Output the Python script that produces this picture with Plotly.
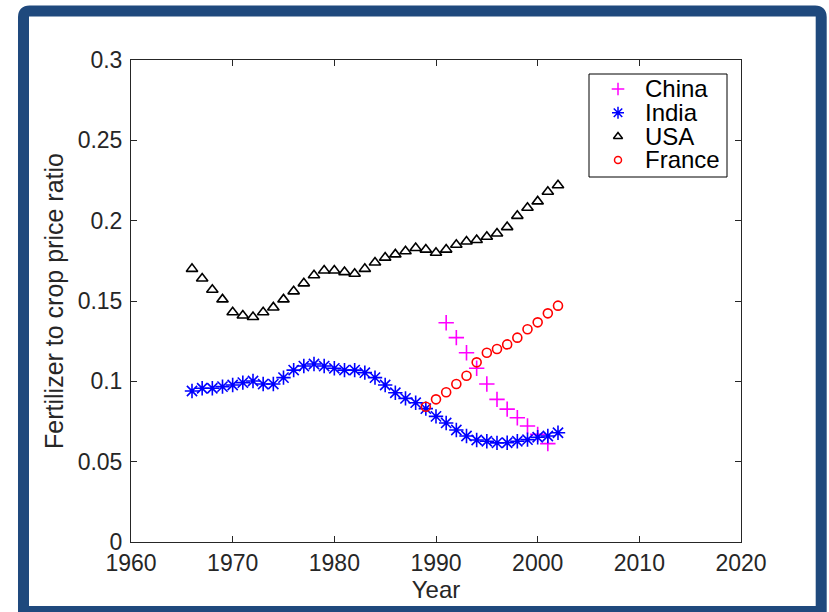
import plotly.graph_objects as go

# ---- data -------------------------------------------------------------
usa_years = list(range(1966, 2003))
usa_ratio = [0.170, 0.164, 0.157, 0.151, 0.143, 0.141, 0.140, 0.143, 0.146, 0.151,
             0.156, 0.161, 0.166, 0.169, 0.169, 0.168, 0.167, 0.170, 0.174, 0.177,
             0.179, 0.181, 0.183, 0.182, 0.180, 0.182, 0.185, 0.187, 0.188, 0.190,
             0.192, 0.196, 0.203, 0.208, 0.212, 0.218, 0.222]

india_years = list(range(1966, 2003))
india_ratio = [0.094, 0.0957, 0.0957, 0.0967, 0.0977, 0.0992, 0.1002, 0.0983, 0.0983, 0.1023,
               0.107, 0.1095, 0.1108, 0.1095, 0.1081, 0.107, 0.107, 0.1054, 0.1023, 0.0977,
               0.0929, 0.0894, 0.0867, 0.0830, 0.0782, 0.0741, 0.0697, 0.066, 0.0635, 0.0627,
               0.0617, 0.0618, 0.0627, 0.0637, 0.0652, 0.066, 0.068]

china_years = list(range(1991, 2002))
china_ratio = [0.1365, 0.1272, 0.1178, 0.1081, 0.0983, 0.0888, 0.0827, 0.0773, 0.0722, 0.0670, 0.0612]

france_years = list(range(1989, 2003))
france_ratio = [0.0842, 0.0888, 0.0932, 0.0983, 0.1035, 0.1118, 0.1178, 0.1201, 0.1230, 0.1272,
                0.1324, 0.1367, 0.1423, 0.1471]

series_names = ["China", "India", "USA", "France"]
x_ticks = [1960, 1970, 1980, 1990, 2000, 2010, 2020]
y_ticks = [0, 0.05, 0.1, 0.15, 0.2, 0.25, 0.3]
y_tick_text = ["0", "0.05", "0.1", "0.15", "0.2", "0.25", "0.3"]

# ---- styling ----------------------------------------------------------
W, H = 829, 612
ML, MR, MT, MB = 131, 88, 60, 70
PW, PH = W - ML - MR, H - MT - MB
FONT = "Liberation Sans, Arial, Helvetica, sans-serif"
INK = "#262626"
FRAME = "#1F497D"

styles = {
    "China": dict(symbol="cross-thin-open", color="#FF00FF", size=11),
    "India": dict(symbol="asterisk-open", color="#0000FF", size=12),
    "USA": dict(symbol="triangle-up-open", color="#000000", size=10),
    "France": dict(symbol="circle-open", color="#FF0000", size=9),
}
series_data = {
    "China": (china_years, china_ratio),
    "India": (india_years, india_ratio),
    "USA": (usa_years, usa_ratio),
    "France": (france_years, france_ratio),
}


def px_to_paper(px, py):
    return (px - ML) / PW, (H - MB - py) / PH


fig = go.Figure()

for name in series_names:
    xs, ys = series_data[name]
    st = styles[name]
    fig.add_trace(go.Scatter(
        x=xs, y=ys, mode="markers", name=name, showlegend=False,
        marker=dict(symbol=st["symbol"], size=st["size"], color=st["color"],
                    line=dict(color=st["color"], width=1.6)),
        cliponaxis=False,
    ))

# ---- legend box (keys and labels on an overlay axis spanning the plot area)
leg_x0, leg_y0 = px_to_paper(589, 74)
leg_x1, leg_y1 = px_to_paper(727, 177)
key_x, _ = px_to_paper(618, 0)
text_x, _ = px_to_paper(645, 0)
row_px = [89, 112.7, 136.5, 160]
row_y = [px_to_paper(0, r)[1] for r in row_px]
text_row_y = [px_to_paper(0, r + 2)[1] for r in row_px]

for name, ry, ty in zip(series_names, row_y, text_row_y):
    st = styles[name]
    fig.add_trace(go.Scatter(
        x=[key_x], y=[ry], xaxis="x2", yaxis="y2", mode="markers",
        showlegend=False, hoverinfo="skip",
        marker=dict(symbol=st["symbol"], size=st["size"] - 2, color=st["color"],
                    line=dict(color=st["color"], width=1.5)),
    ))
    fig.add_trace(go.Scatter(
        x=[text_x], y=[ty], xaxis="x2", yaxis="y2", mode="text",
        text=[name], textposition="middle right", showlegend=False, hoverinfo="skip",
        textfont=dict(family=FONT, size=24, color="#000000"),
    ))

fig.add_shape(type="rect", xref="paper", yref="paper",
              x0=leg_x0, y0=leg_y0, x1=leg_x1, y1=leg_y1,
              line=dict(color="#000000", width=1), fillcolor="rgba(255,255,255,0)")

# ---- rounded frame around the figure ----------------------------------
fl, fr, ft, fb, rad = 23.5, 821.2, 11.0, 611.5, 6.0
pts = {
    "a": px_to_paper(fl, fb), "b": px_to_paper(fl, ft + rad), "c": px_to_paper(fl, ft),
    "d": px_to_paper(fl + rad, ft), "e": px_to_paper(fr - rad, ft), "f": px_to_paper(fr, ft),
    "g": px_to_paper(fr, ft + rad), "h": px_to_paper(fr, fb),
}
p = lambda k: f"{pts[k][0]:.5f},{pts[k][1]:.5f}"
frame_path = (f"M{p('a')} L{p('b')} Q{p('c')} {p('d')} L{p('e')} Q{p('f')} {p('g')} "
              f"L{p('h')} Z")
fig.add_shape(type="path", xref="paper", yref="paper", path=frame_path,
              line=dict(color=FRAME, width=11), layer="above")

axis_common = dict(
    showline=True, linecolor=INK, linewidth=1, mirror="ticks",
    ticks="inside", ticklen=6, tickwidth=1, tickcolor=INK,
    showgrid=False, zeroline=False,
    tickfont=dict(family=FONT, size=23, color=INK),
)

fig.update_layout(
    width=W, height=H, autosize=False,
    margin=dict(l=ML, r=MR, t=MT, b=MB, pad=0),
    paper_bgcolor="white", plot_bgcolor="white",
    xaxis=dict(range=[1960, 2020], tickvals=x_ticks, ticktext=[str(v) for v in x_ticks],
               title=dict(text="Year", font=dict(family=FONT, size=24, color=INK), standoff=2),
               **axis_common),
    yaxis=dict(range=[0, 0.3], tickvals=y_ticks, ticktext=y_tick_text, ticklabelstandoff=3,
               title=dict(text="Fertilizer to crop price ratio",
                          font=dict(family=FONT, size=25, color=INK), standoff=6),
               **axis_common),
    xaxis2=dict(overlaying="x", range=[0, 1], visible=False),
    yaxis2=dict(overlaying="y", range=[0, 1], visible=False),
    showlegend=False,
)

fig.write_html("out.html")
